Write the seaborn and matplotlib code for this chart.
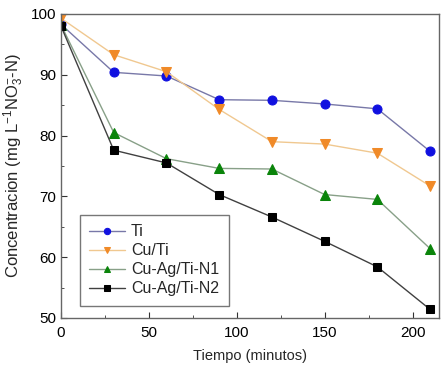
import matplotlib
matplotlib.use("Agg")
import matplotlib.pyplot as plt
import seaborn as sns
import pandas as pd
from matplotlib.ticker import MultipleLocator

sns.set_style("ticks")
plt.rcParams['font.family'] = ['Liberation Sans', 'DejaVu Sans']
plt.rcParams['mathtext.default'] = 'regular'

tiempo = [0, 30, 60, 90, 120, 150, 180, 210]
ti = [98.3, 90.4, 89.8, 85.9, 85.8, 85.2, 84.4, 77.4]
cu_ti = [99.3, 93.3, 90.5, 84.3, 79.0, 78.6, 77.1, 71.7]
cu_ag_n1 = [98.2, 80.5, 76.2, 74.6, 74.5, 70.3, 69.5, 61.4]
cu_ag_n2 = [98.0, 77.6, 75.5, 70.3, 66.6, 62.6, 58.4, 51.4]

series = [
    ("Ti", ti, "o", "#1010e0", "#7878a8", 6.5),
    ("Cu/Ti", cu_ti, "v", "#f08a28", "#f0c890", 7),
    ("Cu-Ag/Ti-N1", cu_ag_n1, "^", "#0a840a", "#88a088", 7),
    ("Cu-Ag/Ti-N2", cu_ag_n2, "s", "#000000", "#404040", 5.5),
]

fig = plt.figure(figsize=(4.42, 3.68), dpi=100)
ax = fig.add_axes([0.138, 0.136, 0.855, 0.826])

for name, vals, mk, mcol, lcol, ms in series:
    df = pd.DataFrame({"t": tiempo, "c": vals})
    sns.lineplot(data=df, x="t", y="c", ax=ax, label=name, color=lcol,
                 marker=mk, markersize=ms, markerfacecolor=mcol,
                 markeredgecolor=mcol, linewidth=1.0)

ax.set_xlim(0, 215)
ax.set_ylim(50, 100)
ax.xaxis.set_major_locator(MultipleLocator(50))
ax.xaxis.set_minor_locator(MultipleLocator(25))
ax.yaxis.set_major_locator(MultipleLocator(10))
ax.yaxis.set_minor_locator(MultipleLocator(5))
ax.tick_params(which='both', direction='in', top=False, right=False,
               labelsize=11, colors='#333333', labelcolor='black')
ax.tick_params(axis='x', pad=6)
ax.tick_params(which='major', length=4)
ax.tick_params(which='minor', length=2.5)
for s in ax.spines.values():
    s.set_color('#666666')
    s.set_linewidth(1.0)

ax.set_xlabel("Tiempo (minutos)", fontsize=10.5, labelpad=6)
ax.set_ylabel(r"Concentracion (mg L$^{-1}$NO$_3^{-}$-N)", fontsize=12, labelpad=3)

leg = ax.legend(loc='lower left', bbox_to_anchor=(0.05, 0.04), fontsize=11.5,
                frameon=True, fancybox=False, handlelength=2.2, markerscale=0.7,
                borderpad=0.6, labelspacing=0.25, handletextpad=0.4,
                borderaxespad=0)
leg.get_frame().set_edgecolor('#555555')
leg.get_frame().set_linewidth(1.0)

fig.savefig("out.png", dpi=100)
